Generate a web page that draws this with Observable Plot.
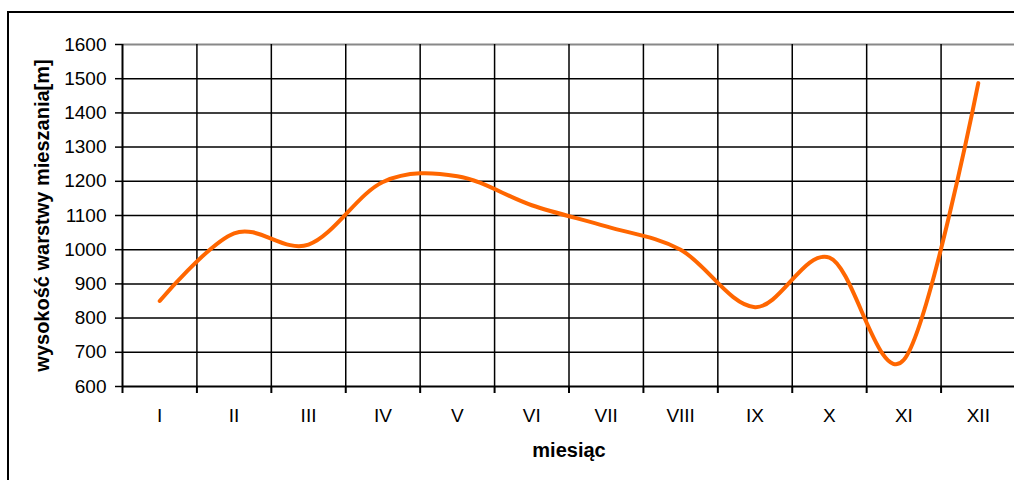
<!DOCTYPE html>
<html>
<head>
<meta charset="utf-8">
<script src="https://cdn.jsdelivr.net/npm/d3@7"></script>
<script src="https://cdn.jsdelivr.net/npm/@observablehq/plot@0.6"></script>
<style>
  body { margin: 0; background: #fff; overflow: hidden; }
  #wrap { position: relative; width: 1014px; height: 480px; overflow: hidden; }
  #chart { position: absolute; left: 0; top: 0; }
  #frame { position: absolute; left: 7px; top: 11px; width: 1100px; height: 600px;
           border-top: 2px solid #000; border-left: 2px solid #000; pointer-events: none; }
</style>
</head>
<body>
<div id="wrap"><div id="chart"></div><div id="frame"></div></div>
<script>
// Data
const months = ["I", "II", "III", "IV", "V", "VI", "VII", "VIII", "IX", "X", "XI", "XII"];
const monthIndex = [1, 2, 3, 4, 5, 6, 7, 8, 9, 10, 11, 12];
const heights = [850, 1048, 1015, 1198, 1215, 1130, 1068, 1000, 832, 977, 678, 1487];
const yTicks = [600, 700, 800, 900, 1000, 1100, 1200, 1300, 1400, 1500, 1600];
const bandEdges = [0.5, 1.5, 2.5, 3.5, 4.5, 5.5, 6.5, 7.5, 8.5, 9.5, 10.5, 11.5];
const yLabel = "wysokość warstwy mieszania[m]";
const xLabel = "miesiąc";

const series = monthIndex.map((m, i) => ({ m, h: heights[i] }));

const chart = Plot.plot({
  width: 1014,
  height: 480,
  marginLeft: 122,
  marginRight: -1,
  marginTop: 44,
  marginBottom: 94,
  style: { fontFamily: "'Liberation Sans', Arial, sans-serif", fontSize: "19px", color: "#000", background: "transparent" },
  x: { domain: [0.5, 12.5], axis: null },
  y: { domain: [600, 1600], axis: null },
  marks: [
    Plot.ruleY(yTicks.filter(d => d > 600 && d < 1600), { stroke: "#000", strokeWidth: 1.5 }),
    Plot.ruleY([1600], { stroke: "#888", strokeWidth: 2 }),
    Plot.ruleX(bandEdges.slice(1), { y1: 600, y2: 1600, stroke: "#000", strokeWidth: 1.5 }),
    Plot.ruleX([0.5], { y1: 600, y2: 1600, stroke: "#000", strokeWidth: 2 }),
    Plot.ruleY([600], { stroke: "#000", strokeWidth: 2 }),
    Plot.axisY(yTicks, { anchor: "left", label: null, tickSize: 7, tickPadding: 9, tickFormat: d => String(d), stroke: "#000", strokeWidth: 1.5, fontSize: 19 }),
    Plot.axisX(monthIndex, { anchor: "bottom", label: null, tickSize: 0, tickPadding: 22, tickFormat: i => months[i - 1], fontSize: 19 }),
    Plot.axisX(bandEdges, { anchor: "bottom", label: null, tickSize: 7, text: null, stroke: "#000", strokeWidth: 2 }),
    Plot.text([yLabel], { frameAnchor: "left", dx: -80, rotate: -90, textAnchor: "middle", lineAnchor: "middle", fontWeight: "bold", fontSize: 20 }),
    Plot.text([xLabel], { frameAnchor: "bottom", dy: 64, textAnchor: "middle", lineAnchor: "middle", fontWeight: "bold", fontSize: 20 }),
    Plot.line(series, { x: "m", y: "h", stroke: "#FF6600", strokeWidth: 4, curve: "cardinal", tension: 0 })
  ]
});
document.getElementById("chart").appendChild(chart);
</script>
</body>
</html>
